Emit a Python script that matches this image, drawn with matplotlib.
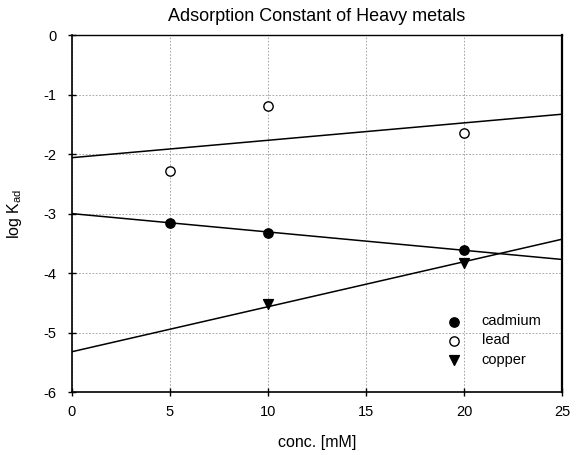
import matplotlib
matplotlib.use("Agg")
import matplotlib.pyplot as plt

plt.rcParams['font.family'] = ['Liberation Sans', 'DejaVu Sans']

cd_x = [5, 10, 20]
cd_y = [-3.15, -3.33, -3.61]
pb_x = [5, 10, 20]
pb_y = [-2.28, -1.19, -1.65]
cu_x = [10, 20]
cu_y = [-4.52, -3.83]

# fitted regression lines (endpoints)
line_x = [0, 25]
cd_fit = [-3.0, -3.77]
pb_fit = [-2.06, -1.33]
cu_fit = [-5.32, -3.43]

xticks = [0, 5, 10, 15, 20, 25]
yticks = [0, -1, -2, -3, -4, -5, -6]

fig = plt.figure(figsize=(5.8, 4.55), dpi=100)
ax = fig.add_axes([0.124, 0.138, 0.845, 0.785])

ax.plot(line_x, pb_fit, color='black', lw=1.1)
ax.plot(line_x, cd_fit, color='black', lw=1.1)
ax.plot(line_x, cu_fit, color='black', lw=1.1)

ax.scatter(cd_x, cd_y, s=45, marker='o', facecolor='black', edgecolor='black', zorder=3, label='cadmium')
ax.scatter(pb_x, pb_y, s=45, marker='o', facecolor='white', edgecolor='black', linewidth=1, zorder=3, label='lead')
ax.scatter(cu_x, cu_y, s=50, marker='v', facecolor='black', edgecolor='black', zorder=3, label='copper')

ax.set_xlim(0, 25)
ax.set_ylim(-6, 0)
ax.set_xticks(xticks)
ax.set_yticks(yticks)
ax.set_yticklabels([str(t) for t in yticks])
ax.grid(True, linestyle=(0, (2, 2)), color='#999999', lw=0.6)
ax.set_axisbelow(True)
ax.tick_params(direction='inout', length=6, width=1, labelsize=10.5)
ax.tick_params(axis='x', pad=6)
ax.tick_params(axis='y', pad=8)
for s in ['left', 'bottom']:
    ax.spines[s].set_linewidth(1.2)
ax.spines['right'].set_linewidth(1.6)
ax.spines['top'].set_linewidth(1.0)

ax.set_title('Adsorption Constant of Heavy metals', fontsize=13, pad=10)
ax.set_xlabel('conc. [mM]', fontsize=11.5, labelpad=12)
ax.set_ylabel(r'log K$_\mathregular{ad}$', fontsize=11.5, labelpad=14)

ax.legend(loc='lower right', bbox_to_anchor=(0.985, 0.035), frameon=False, fontsize=10.5,
          handletextpad=0.9, labelspacing=0.35)

fig.savefig('out.png', dpi=100)
